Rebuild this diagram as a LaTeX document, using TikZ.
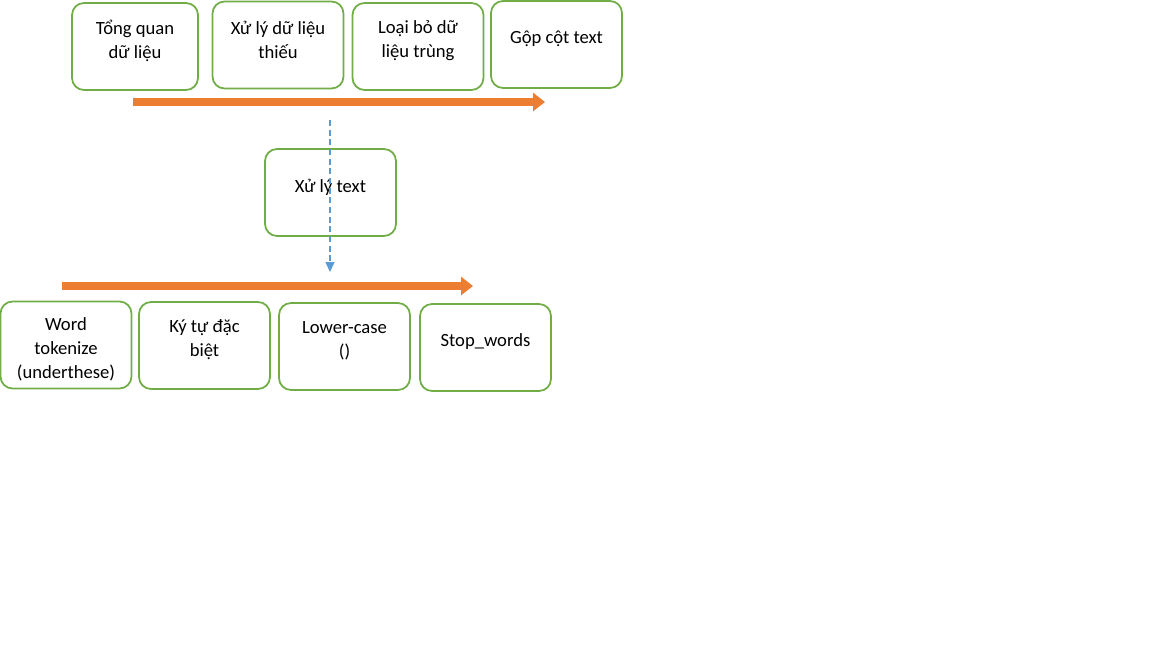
\documentclass[tikz,border=0pt]{standalone}
\usepackage{fontspec}
\setmainfont{Carlito}
\usetikzlibrary{arrows.meta}

\definecolor{boxgreen}{HTML}{70AD47}
\definecolor{floworange}{HTML}{ED7D31}
\definecolor{dashblue}{HTML}{5B9BD5}

\tikzset{
  stepbox/.style={draw=boxgreen, line width=1pt, rounded corners=0.24cm,
    minimum width=2.62cm, minimum height=1.74cm},
  every label/.style={align=center, font=\fontsize{10.6}{13.6}\selectfont},
  flow/.style={draw=floworange, line width=0.17cm,
    -{Triangle[length=0.24cm,width=0.36cm]}},
  jump/.style={draw=dashblue, line width=0.85pt, dash pattern=on 3.5pt off 2pt,
    -{Triangle[length=0.2cm,width=0.18cm]}},
}

\begin{document}
\begin{tikzpicture}[x=0.02cm, y=-0.02cm]
        \useasboundingbox (0,0) rectangle (1152,648);

        % First row of steps
        \node[stepbox, minimum width=2.52cm, label={[yshift=0.11cm]center:Tổng quan\\dữ liệu}] (tongquan) at (135,46.5) {};
        \node[stepbox, label={[yshift=0.11cm]center:Xử lý dữ liệu\\thiếu}] (thieu) at (278,45) {};
        \node[stepbox, label={[yshift=0.11cm]center:Loại bỏ dữ\\liệu trùng}] (trung) at (418,46.5) {};
        \node[stepbox, label={[yshift=0.11cm]center:Gộp cột text}] (gopcot) at (556.5,44.5) {};

        % Flow of the first row
        \coordinate (top start) at (133,102);
        \coordinate (top end) at (545,102);
        \draw[flow] (top start) -- (top end);

        % Text step in the middle
        \node[stepbox, label={[yshift=0.11cm]center:Xử lý text}] (xulytext) at (330.5,192.5) {};

        % Dashed link down to the second row
        \coordinate (link start) at (330,120);
        \coordinate (link end) at (330,272);
        \draw[jump] (link start) -- (link end);

        % Flow of the second row
        \coordinate (low start) at (62,286);
        \coordinate (low end) at (473,286);
        \draw[flow] (low start) -- (low end);

        % Second row of steps
        \node[stepbox, label={[yshift=-0.08cm]center:Word\\tokenize\\(underthese)}] (tokenize) at (66,345) {};
        \node[stepbox, label={[yshift=0.11cm]center:Ký tự đặc\\biệt}] (kytu) at (204.5,345.5) {};
        \node[stepbox, label={[yshift=0.11cm]center:Lower-case\\()}] (lower) at (344.5,346.5) {};
        \node[stepbox, label={[yshift=0.11cm]center:Stop\_words}] (stopwords) at (485.5,347.5) {};

    \end{tikzpicture}
\end{document}
